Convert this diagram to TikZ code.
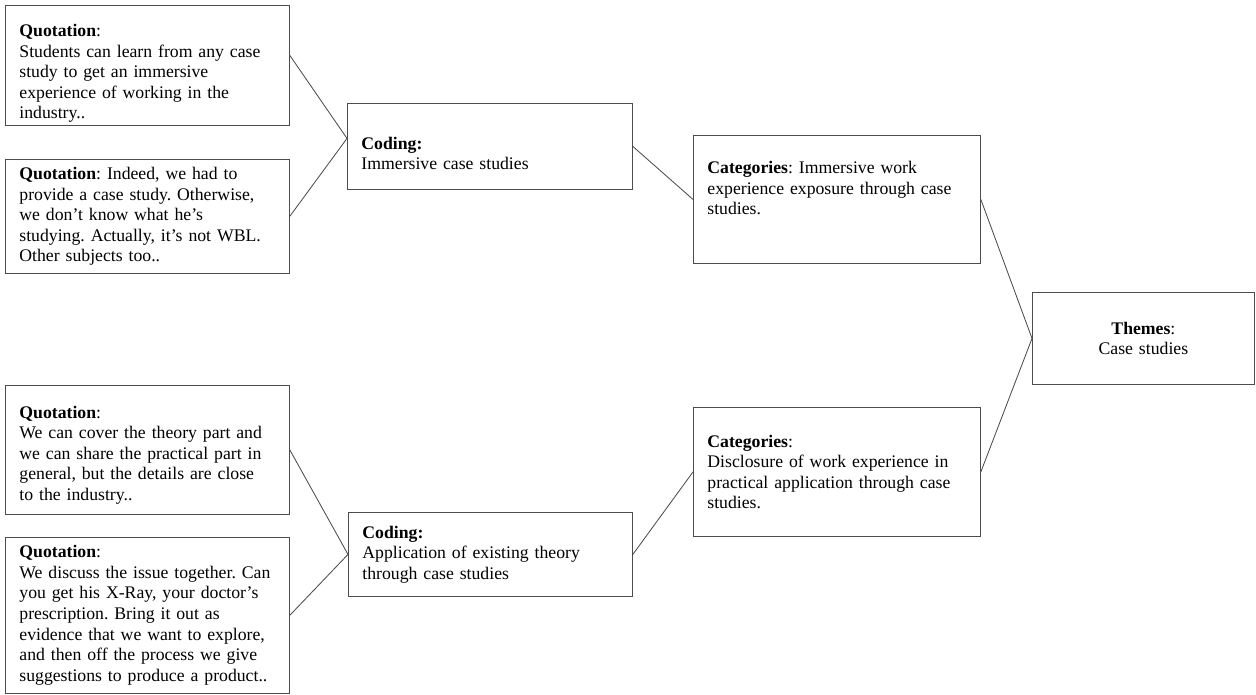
\documentclass[tikz,border=0pt]{standalone}
\usepackage{fontspec}
\setmainfont{Liberation Serif}
\usetikzlibrary{positioning}
\frenchspacing

\begin{document}
\begin{tikzpicture}[node distance=0.8cm, every node/.style={align=left},
    box/.style={rectangle, draw=black!70, line width=0.6pt, anchor=north west,
        inner xsep=0.35cm, inner ysep=2pt, font=\fontsize{12.6}{14.6}\selectfont},
    link/.style={draw=black!70, line width=0.6pt}]
        \useasboundingbox (0,0) rectangle (31.4,-17.375);

        % Quotations, upper group
        \node (q1) [box, text width=6.4cm, minimum height=3cm] at (0.125,-0.125)
        {\rule{0pt}{20pt}\textbf{Quotation}:\\Students can learn from any case\\study to get an immersive\\experience of working in the\\industry..};
        \node (q2) [box, text width=6.4cm, minimum height=2.85cm, below=0.825cm of q1]
        {\textbf{Quotation}: Indeed, we had to\\provide a case study. Otherwise,\\we don't know what he's\\studying. Actually, it's not WBL.\\Other subjects too..};

        % Quotations, lower group
        \node (q3) [box, text width=6.4cm, minimum height=3.225cm] at (0.125,-9.625)
        {\rule{0pt}{16pt}\textbf{Quotation}:\\We can cover the theory part and\\we can share the practical part in\\general, but the details are close\\to the industry..};
        \node (q4) [box, text width=6.4cm, minimum height=3.9cm, below=0.55cm of q3]
        {\textbf{Quotation}:\\We discuss the issue together. Can\\you get his X-Ray, your doctor's\\prescription. Bring it out as\\evidence that we want to explore,\\and then off the process we give\\suggestions to produce a product..};

        % Coding
        \node (cod1) [box, text width=6.425cm, minimum height=2.15cm] at (8.675,-2.575)
        {\rule{0pt}{19pt}\textbf{Coding:}\\Immersive case studies};
        \node (cod2) [box, text width=6.4cm, minimum height=2.1cm] at (8.7,-12.8)
        {\textbf{Coding:}\\Application of existing theory\\through case studies};

        % Categories
        \node (cat1) [box, text width=6.475cm, minimum height=3.2cm] at (17.325,-3.375)
        {\textbf{Categories}: Immersive work\\experience exposure through case\\studies.\rule[-16pt]{0pt}{16pt}};
        \node (cat2) [box, text width=6.475cm, minimum height=3.225cm] at (17.325,-10.175)
        {\textbf{Categories}:\\Disclosure of work experience in\\practical application through case\\studies.};

        % Themes
        \node (thm) [box, align=center, text width=4.85cm, minimum height=2.3cm] at (25.8,-7.3)
        {\textbf{Themes}:\\Case studies};

        % Links
        \draw[link] ([yshift=0.25cm]q1.east) -- ([yshift=0.2cm]cod1.west);
        \draw[link] (q2.east) -- ([yshift=0.2cm]cod1.west);
        \draw[link] (q3.east) -- (cod2.west);
        \draw[link] (q4.east) -- (cod2.west);
        \draw[link] (cod1.east) -- (cat1.west);
        \draw[link] (cod2.east) -- (cat2.west);
        \draw[link] (cat1.east) -- (thm.west);
        \draw[link] (cat2.east) -- (thm.west);
\end{tikzpicture}
\end{document}
